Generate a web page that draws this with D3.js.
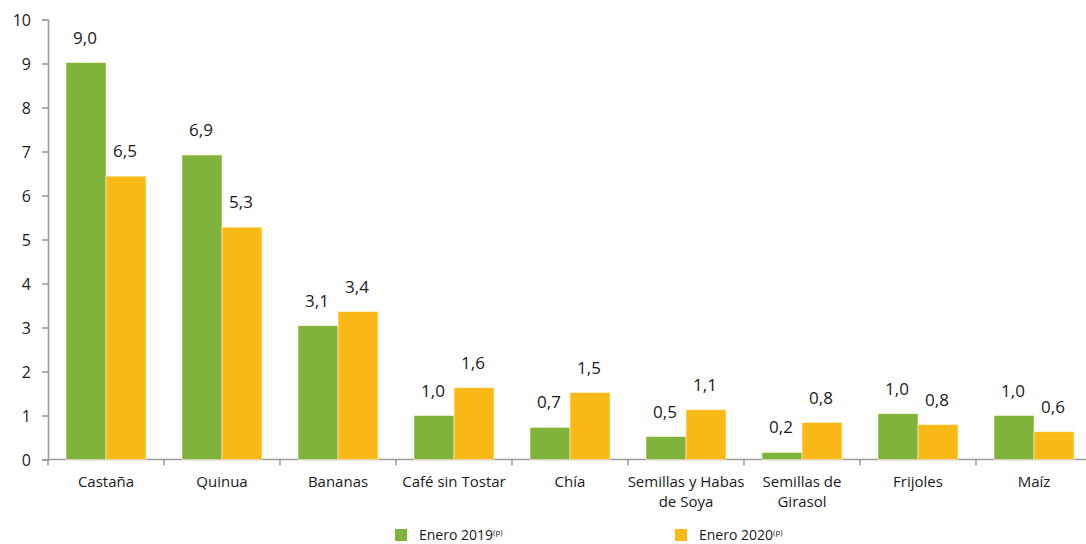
<!DOCTYPE html>
<meta charset="utf-8">
<style>
  body { margin: 0; background: #fff; }
  text { font-family: "Open Sans", sans-serif; fill: #1a1a1a; }
</style>
<svg width="1086" height="544"></svg>
<script src="https://d3js.org/d3.v7.min.js"></script>
<script>

var categories = ["Castaña", "Quinua", "Bananas", "Café sin Tostar", "Chía",
                  "Semillas y Habas de Soya", "Semillas de Girasol", "Frijoles", "Maíz"];
var categoryLines = [["Castaña"], ["Quinua"], ["Bananas"], ["Café sin Tostar"], ["Chía"],
                     ["Semillas y Habas", "de Soya"], ["Semillas de", "Girasol"], ["Frijoles"], ["Maíz"]];
var series = ["Enero 2019", "Enero 2020"];
var values2019 = [9.02, 6.92, 3.04, 1.0, 0.73, 0.52, 0.16, 1.04, 1.0];
var values2020 = [6.44, 5.28, 3.36, 1.63, 1.52, 1.13, 0.84, 0.79, 0.63];
var labels2019 = ["9,0", "6,9", "3,1", "1,0", "0,7", "0,5", "0,2", "1,0", "1,0"];
var labels2020 = ["6,5", "5,3", "3,4", "1,6", "1,5", "1,1", "0,8", "0,8", "0,6"];
var yTicks = [0, 1, 2, 3, 4, 5, 6, 7, 8, 9, 10];

var colors = ["#80b33b", "#fbb918"];

var svg = d3.select("svg");

var x = d3.scaleBand()
    .domain(categories)
    .range([48, 1092])
    .paddingInner(0)
    .paddingOuter(0);

var x1 = d3.scaleBand()
    .domain(series)
    .range([0, x.bandwidth()])
    .paddingInner(0)
    .paddingOuter(0.45);

var y = d3.scaleLinear()
    .domain([0, 10])
    .range([459.5, 19.5]);

// y axis
var yAxis = svg.append("g")
    .attr("transform", "translate(48,0)")
    .call(d3.axisLeft(y).tickValues(yTicks).tickSize(6).tickPadding(11).tickFormat(d3.format("d")));
yAxis.selectAll("line, path").attr("stroke", "#9d9d9d").attr("stroke-width", 1.6);
yAxis.selectAll("text").style("font-size", "16px").attr("dy", "0.35em");

// x axis
var xAxis = svg.append("g")
    .attr("transform", "translate(0,459.5)");
xAxis.append("line")
    .attr("x1", 48).attr("x2", 1092)
    .attr("stroke", "#9d9d9d").attr("stroke-width", 1.6);
xAxis.selectAll(".tick")
    .data(categories)
    .enter().append("line")
    .attr("x1", function(d) { return x(d); })
    .attr("x2", function(d) { return x(d); })
    .attr("y1", 0).attr("y2", 6)
    .attr("stroke", "#9d9d9d").attr("stroke-width", 1.6);

var catText = xAxis.selectAll(".cat")
    .data(categories)
    .enter().append("text")
    .attr("text-anchor", "middle")
    .attr("x", function(d) { return x(d) + x.bandwidth() / 2; })
    .attr("y", 27)
    .style("font-size", "15px");
catText.each(function(d, i) {
  var t = d3.select(this);
  categoryLines[i].forEach(function(line, j) {
    t.append("tspan")
      .attr("x", x(d) + x.bandwidth() / 2)
      .attr("dy", j === 0 ? 0 : 20)
      .text(line);
  });
});

// bars
var data = categories.map(function(c, i) {
  return [
    {cat: c, s: series[0], v: values2019[i], label: labels2019[i], color: colors[0]},
    {cat: c, s: series[1], v: values2020[i], label: labels2020[i], color: colors[1]}
  ];
});

var groups = svg.selectAll(".group")
    .data(data)
    .enter().append("g")
    .attr("transform", function(d) { return "translate(" + x(d[0].cat) + ",0)"; });

groups.selectAll("rect")
    .data(function(d) { return d; })
    .enter().append("rect")
    .attr("x", function(d) { return x1(d.s); })
    .attr("width", x1.bandwidth())
    .attr("y", function(d) { return y(d.v); })
    .attr("height", function(d) { return y(0) - y(d.v); })
    .attr("fill", function(d) { return d.color; })
    .attr("stroke", "#fff3d0")
    .attr("stroke-width", 0.6);

groups.selectAll(".val")
    .data(function(d) { return d; })
    .enter().append("text")
    .attr("text-anchor", "middle")
    .attr("x", function(d) { return x1(d.s) + x1.bandwidth() / 2 - 1; })
    .attr("y", function(d) { return y(d.v) - 19; })
    .style("font-size", "17px")
    .text(function(d) { return d.label; });

// legend
var legendX = [395, 675];
var legend = svg.selectAll(".legend")
    .data(series)
    .enter().append("g")
    .attr("transform", function(d, i) { return "translate(" + legendX[i] + ",529)"; });
legend.append("rect")
    .attr("width", 12).attr("height", 12)
    .attr("fill", function(d, i) { return colors[i]; });
var lt = legend.append("text")
    .attr("x", 24).attr("y", 11)
    .style("font-size", "14px");
lt.append("tspan").text(function(d) { return d; });
lt.append("tspan")
    .attr("dy", -5)
    .style("font-size", "8px")
    .text("(p)");

</script>
